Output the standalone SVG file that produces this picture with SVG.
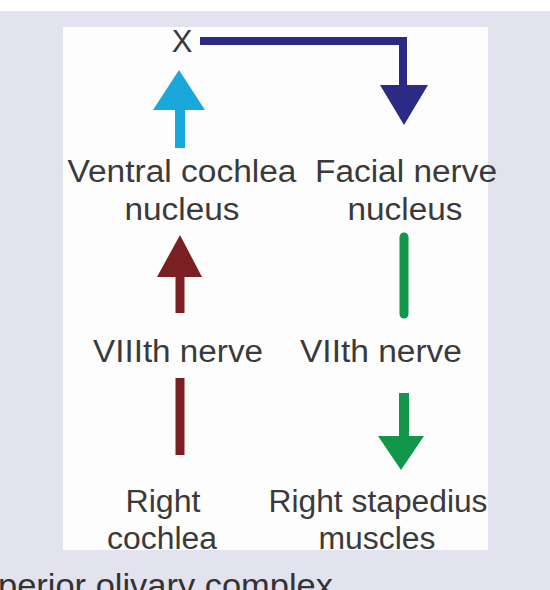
<svg xmlns="http://www.w3.org/2000/svg" width="550" height="590" viewBox="0 0 550 590">
<style>
.t{font-family:"Liberation Sans",Arial,sans-serif;font-size:31px;fill:#3a3a3a;text-anchor:middle}
.cap{font-family:"Liberation Sans",Arial,sans-serif;font-size:33px;fill:#333}
</style>
<rect x="0" y="0" width="550" height="590" fill="#e3e3ef"/>
<rect x="0" y="0" width="550" height="11" fill="#ffffff"/>
<rect x="63" y="27" width="425" height="523" fill="#fdfdfd"/>
<g id="connectors">
  <g id="e-vcn-x">
    <line x1="180" y1="106" x2="180" y2="148" stroke="#1aa8dc" stroke-width="10"/>
    <polygon points="179,70 153,110 205,110" fill="#1aa8dc"/>
  </g>
  <g id="e-x-fnn">
    <path d="M200,41 H403 V90" fill="none" stroke="#2b2a84" stroke-width="8"/>
    <polygon points="380,85 428,85 404,125" fill="#2b2a84"/>
  </g>
  <g id="e-viii-vcn">
    <line x1="180" y1="274" x2="180" y2="313" stroke="#7a1f22" stroke-width="9"/>
    <polygon points="180,235 157,277 202,277" fill="#7a1f22"/>
  </g>
  <g id="e-fnn-vii">
    <line x1="404" y1="237" x2="404" y2="314" stroke="#12964a" stroke-width="9" stroke-linecap="round"/>
  </g>
  <g id="e-rc-viii">
    <line x1="180" y1="378" x2="180" y2="455" stroke="#7a1f22" stroke-width="9"/>
  </g>
  <g id="e-vii-rsm">
    <line x1="404" y1="393" x2="404" y2="440" stroke="#12964a" stroke-width="10"/>
    <polygon points="378,436 424,436 401,470" fill="#12964a"/>
  </g>
</g>
<g id="n-x"><text class="t" x="182" y="52" font-size="30">X</text></g>
<g id="n-vcn">
  <text class="t" x="182" y="182" textLength="229" lengthAdjust="spacingAndGlyphs">Ventral cochlea</text>
  <text class="t" x="182" y="220" textLength="115" lengthAdjust="spacingAndGlyphs">nucleus</text>
</g>
<g id="n-fnn">
  <text class="t" x="406" y="182" textLength="182" lengthAdjust="spacingAndGlyphs">Facial nerve</text>
  <text class="t" x="405" y="220" textLength="115" lengthAdjust="spacingAndGlyphs">nucleus</text>
</g>
<g id="n-viii"><text class="t" x="178" y="362" textLength="170" lengthAdjust="spacingAndGlyphs">VIIIth nerve</text></g>
<g id="n-vii"><text class="t" x="381" y="362" textLength="162" lengthAdjust="spacingAndGlyphs">VIIth nerve</text></g>
<g id="n-rc">
  <text class="t" x="163" y="512" textLength="75" lengthAdjust="spacingAndGlyphs">Right</text>
  <text class="t" x="162" y="549" textLength="110" lengthAdjust="spacingAndGlyphs">cochlea</text>
</g>
<g id="n-rsm">
  <text class="t" x="378" y="512" textLength="219" lengthAdjust="spacingAndGlyphs">Right stapedius</text>
  <text class="t" x="377" y="549" textLength="117" lengthAdjust="spacingAndGlyphs">muscles</text>
</g>
<text class="cap" x="-2" y="597" textLength="335" lengthAdjust="spacingAndGlyphs">perior olivary complex</text>
</svg>
